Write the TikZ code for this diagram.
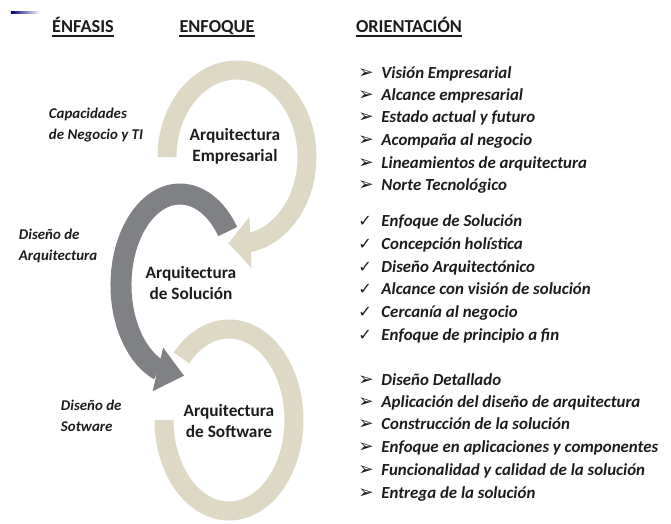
\documentclass[tikz,border=0pt]{standalone}
\usepackage{fontspec}
\setmainfont{Carlito}
\newfontfamily\symfont{DejaVu Sans}
\usetikzlibrary{arrows.meta,bending}
\definecolor{ringbeige}{RGB}{221,217,197}
\definecolor{ringgray}{RGB}{128,129,133}
\definecolor{inkdark}{RGB}{28,28,30}
\newcommand{\arrbul}{\makebox[16.5pt][l]{\symfont\bfseries\fontsize{13}{12}\selectfont ➢}}
\newcommand{\chkbul}{\makebox[16.5pt][l]{\symfont\fontsize{11.5}{12}\selectfont ✓}}
\begin{document}
\begin{tikzpicture}[
    beigering/.style={line width=0.475cm, draw=ringbeige},
    grayring/.style={line width=0.525cm, draw=ringgray},
    focus/.style={font=\bfseries\fontsize{12.3}{15}\selectfont, align=center, text=inkdark},
    emphlabel/.style={anchor=west, font=\bfseries\itshape\fontsize{10.6}{14.5}\selectfont, align=left, text=inkdark},
    colhead/.style={anchor=base, inner sep=0pt, font=\bfseries\fontsize{13}{15}\selectfont, text=inkdark},
    headrule/.style={draw=inkdark, line width=1pt},
    listitem/.style={anchor=west, inner sep=0pt, text height=1.5ex, text depth=.25ex,
        font=\bfseries\itshape\fontsize{12}{15}\selectfont, text=inkdark}
]
    \useasboundingbox (0,0) rectangle (16.775,-13.075);
    \shade[left color=blue!45!black, right color=white] (0.275,-0.28) rectangle (1.0,-0.33);

    % column headers
    \node[colhead] (hEnf) at (2.075,-0.82) {ÉNFASIS};
    \node[colhead] (hFoc) at (5.425,-0.82) {ENFOQUE};
    \node[colhead] (hOri) at (10.225,-0.82) {ORIENTACIÓN};
    \draw[headrule] ([yshift=-2.2pt]hEnf.base west) -- ([yshift=-2.2pt]hEnf.base east);
    \draw[headrule] ([yshift=-2.2pt]hFoc.base west) -- ([yshift=-2.2pt]hFoc.base east);
    \draw[headrule] ([yshift=-2.2pt]hOri.base west) -- ([yshift=-2.2pt]hOri.base east);

    % rings
    \draw[beigering, -{Triangle[width=1.25cm, length=0.55cm, flex]}] (4.175,-3.925)
        arc[start angle=180, end angle=-97, x radius=1.75cm, y radius=2.175cm];
    \draw[beigering] (4.1,-10.5)
        arc[start angle=180, end angle=497, x radius=1.625cm, y radius=2.275cm];
    \draw[grayring, -{Triangle[width=1.075cm, length=0.675cm, flex]}] (5.693,-5.788)
        arc[start angle=36, end angle=274, x radius=1.475cm, y radius=2.275cm];

    \node[focus] (aEmp) at (5.875,-3.65) {Arquitectura\\Empresarial};
    \node[focus] (aSol) at (4.775,-7.075) {Arquitectura\\de Solución};
    \node[focus] (aSoft) at (5.725,-10.525) {Arquitectura\\de Software};

    \node[emphlabel] (eCap) at (1.1,-3.125) {Capacidades\\de Negocio y TI};
    \node[emphlabel] (eArq) at (0.35,-6.15) {Diseño de\\Arquitectura};
    \node[emphlabel] (eSw) at (1.4,-10.4) {Diseño de\\Sotware};

    % orientacion
    \node[listitem] (o1) at (8.95,-1.85) {\arrbul Visión Empresarial};
    \node[listitem] (o2) at (8.95,-2.4) {\arrbul Alcance empresarial};
    \node[listitem] (o3) at (8.95,-2.95) {\arrbul Estado actual y futuro};
    \node[listitem] (o4) at (8.95,-3.525) {\arrbul Acompaña al negocio};
    \node[listitem] (o5) at (8.95,-4.1) {\arrbul Lineamientos de arquitectura};
    \node[listitem] (o6) at (8.95,-4.65) {\arrbul Norte Tecnológico};

    \node[listitem] (s1) at (8.95,-5.55) {\chkbul Enfoque de Solución};
    \node[listitem] (s2) at (8.95,-6.125) {\chkbul Concepción holística};
    \node[listitem] (s3) at (8.95,-6.7) {\chkbul Diseño Arquitectónico};
    \node[listitem] (s4) at (8.95,-7.25) {\chkbul Alcance con visión de solución};
    \node[listitem] (s5) at (8.95,-7.825) {\chkbul Cercanía al negocio};
    \node[listitem] (s6) at (8.95,-8.4) {\chkbul Enfoque de principio a fin};

    \node[listitem] (w1) at (8.95,-9.525) {\arrbul Diseño Detallado};
    \node[listitem] (w2) at (8.95,-10.075) {\arrbul Aplicación del diseño de arquitectura};
    \node[listitem] (w3) at (8.95,-10.625) {\arrbul Construcción de la solución};
    \node[listitem] (w4) at (8.95,-11.2) {\arrbul Enfoque en aplicaciones y componentes};
    \node[listitem] (w5) at (8.95,-11.775) {\arrbul Funcionalidad y calidad de la solución};
    \node[listitem] (w6) at (8.95,-12.35) {\arrbul Entrega de la solución};
\end{tikzpicture}
\end{document}
